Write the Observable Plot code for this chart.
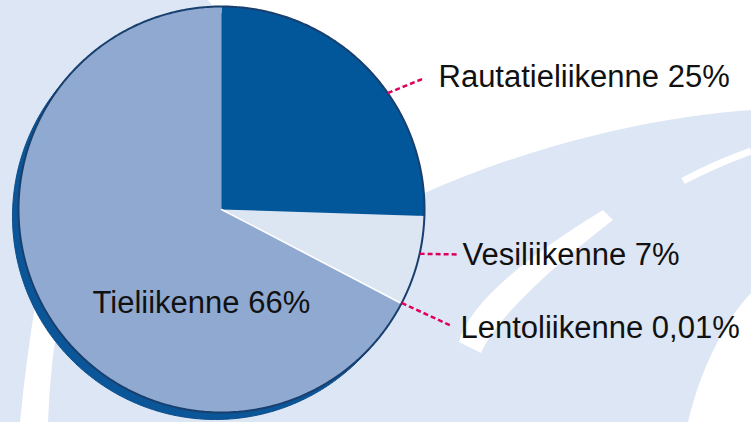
<!DOCTYPE html>
<html>
<head>
<meta charset="utf-8">
<script src="https://cdn.jsdelivr.net/npm/d3@7"></script>
<script src="https://cdn.jsdelivr.net/npm/@observablehq/plot@0.6"></script>
<style>
  html, body { margin: 0; padding: 0; background: #ffffff; }
  #wrap { position: relative; width: 751px; height: 422px; overflow: hidden; }
  #wrap > svg { position: absolute; left: 0; top: 0; }
</style>
</head>
<body>
<div id="wrap">
  <!-- decorative road background -->
  <svg width="751" height="422" viewBox="0 0 751 422">
    <rect x="0" y="0" width="751" height="422" fill="#dde6f4"/>
    <path d="M208,0 L751,0 L751,110 C640,118 520,150 420,195 L300,150 L215,9 Z" fill="#ffffff"/>
    <path d="M683,181 Q715,164 751,151" fill="none" stroke="#ffffff" stroke-width="7"/>
    <path d="M603,210 Q472,290 459,342 L481,353 Q502,306 613,220 Z" fill="#ffffff"/>
    <path d="M751,293 C725,320 700,370 688,422 L751,422 Z" fill="#ffffff"/>
    <path d="M20,422 L48,422 Q50,360 62,300 L36,300 Q26,360 20,422 Z" fill="#ffffff"/>
  </svg>
</div>
<script>
// ---- data ----
const categories = ["Rautatieliikenne", "Vesiliikenne", "Lentoliikenne", "Tieliikenne"];
const shares = [25, 7, 0.01, 66];
const shareLabels = ["25%", "7%", "0,01%", "66%"];
const sliceColors = ["#02579b", "#dce6f3", "#ffffff", "#8fa9d1"];

// ---- layout (pixels) ----
const cx = 221, cy = 209, R = 203;
const labelLayout = [
  {leaderAngle: 55,    leaderEnd: [423, 78],  text: [438, 87]},
  {leaderAngle: 102.6, leaderEnd: [458, 254], text: [462, 265]},
  {leaderAngle: 117.4, leaderEnd: [450, 325], text: [460, 338]},
  {leaderAngle: null,  leaderEnd: null,       text: [92, 313]}
];

// pixel -> unit coordinates used by the scales
const ux = px => (px - cx) / R;
const uy = py => (cy - py) / R;

const rows = categories.map((c, i) => ({name: c, value: shares[i], label: c + " " + shareLabels[i], color: sliceColors[i]}));
const arcs = d3.pie().sort(null).value(d => d.value)(rows);

function slicePoints(a0, a1) {
  const pts = [{x: 0, y: 0}];
  const n = Math.max(2, Math.ceil((a1 - a0) / (Math.PI / 360)));
  for (let k = 0; k <= n; k++) {
    const a = a0 + (a1 - a0) * k / n;
    pts.push({x: Math.sin(a), y: Math.cos(a)});
  }
  pts.push({x: 0, y: 0});
  return pts;
}
const circle = d3.range(0, 721).map(k => {
  const a = k / 720 * 2 * Math.PI;
  return {x: Math.sin(a), y: Math.cos(a)};
});

const leaders = labelLayout.map((L, i) => {
  if (L.leaderAngle == null) return null;
  const a = L.leaderAngle * Math.PI / 180;
  return {x1: Math.sin(a), y1: Math.cos(a), x2: ux(L.leaderEnd[0]), y2: uy(L.leaderEnd[1])};
}).filter(d => d);

const labels = rows.map((r, i) => ({
  label: r.label,
  x: ux(labelLayout[i].text[0]),
  y: uy(labelLayout[i].text[1] - 10)
}));

const fillMarks = arcs
  .filter(a => a.data.name !== "Lentoliikenne")
  .map(a => Plot.line(slicePoints(a.startAngle, a.endAngle), {x: "x", y: "y", fill: a.data.color, stroke: "none"}));
const tiny = arcs.filter(a => a.data.name === "Lentoliikenne")
  .map(a => Plot.line(slicePoints(a.startAngle, a.endAngle), {x: "x", y: "y", fill: a.data.color, stroke: "#ffffff", strokeWidth: 1.5}));

const chart = Plot.plot({
  width: 751,
  height: 422,
  margin: 0,
  style: {background: "transparent", overflow: "visible"},
  x: {domain: [-1, 1], range: [cx - R, cx + R], axis: null},
  y: {domain: [-1, 1], range: [cy + R, cy - R], axis: null},
  marks: [
    Plot.line(circle, {x: "x", y: "y", fill: "#0b5699", stroke: "#0a4c8a", strokeWidth: 1, dx: -6, dy: 7}),
    ...fillMarks,
    ...tiny,
    Plot.line(circle, {x: "x", y: "y", stroke: "#183f6e", strokeWidth: 2}),
    Plot.link(leaders, {x1: "x1", y1: "y1", x2: "x2", y2: "y2", stroke: "#e0005a", strokeWidth: 2.5, strokeDasharray: "5,3"}),
    Plot.text(labels, {x: "x", y: "y", text: "label", textAnchor: "start", fontSize: 31, fontFamily: "Liberation Sans", fill: "#111111"})
  ]
});
document.getElementById("wrap").appendChild(chart);
</script>
</body>
</html>
